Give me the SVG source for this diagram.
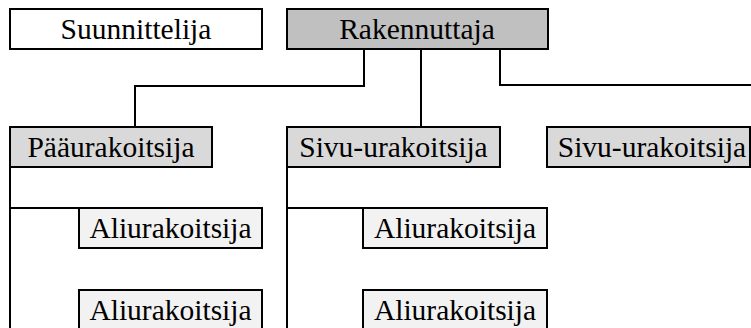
<svg xmlns="http://www.w3.org/2000/svg" width="751" height="328" viewBox="0 0 751 328">
  <style>
    .box { stroke: #000; stroke-width: 2; }
    .plain { fill: #ffffff; }
    .owner { fill: #c0c0c0; }
    .contractor { fill: #d9d9d9; }
    .sub { fill: #f2f2f2; }
    .label { font-family: "Liberation Serif", "Times New Roman", serif; font-size: 29.5px; fill: #000; text-anchor: middle; }
    .link { fill: none; stroke: #000; stroke-width: 2; }
  </style>
  <rect width="751" height="328" fill="#ffffff"/>

  <!-- connectors -->
  <g id="connectors">
    <path class="link" d="M364,49 V86 H135 V127"/>
    <path class="link" d="M421,49 V127"/>
    <path class="link" d="M500,49 V85 H752"/>
    <path class="link" d="M10,167 V330"/>
    <path class="link" d="M10,208 H79"/>
    <path class="link" d="M287,167 V330"/>
    <path class="link" d="M287,208 H363"/>
  </g>

  <g id="suunnittelija">
    <rect class="box plain" x="10" y="9" width="252" height="40"/>
    <text class="label" x="136" y="39">Suunnittelija</text>
  </g>
  <g id="rakennuttaja">
    <rect class="box owner" x="287" y="9" width="261" height="40"/>
    <text class="label" x="417" y="39">Rakennuttaja</text>
  </g>

  <g id="paaurakoitsija">
    <rect class="box contractor" x="10" y="127" width="202" height="40"/>
    <text class="label" x="111" y="157">Pääurakoitsija</text>
  </g>
  <g id="sivu-urakoitsija-1">
    <rect class="box contractor" x="287" y="127" width="213" height="40"/>
    <text class="label" x="393.5" y="157">Sivu-urakoitsija</text>
  </g>
  <g id="sivu-urakoitsija-2">
    <rect class="box contractor" x="547" y="127" width="203" height="40"/>
    <text class="label" x="652" y="157">Sivu-urakoitsija</text>
  </g>

  <g id="aliurakoitsija-1">
    <rect class="box sub" x="79" y="208" width="183" height="40"/>
    <text class="label" x="170.5" y="237.5">Aliurakoitsija</text>
  </g>
  <g id="aliurakoitsija-2">
    <rect class="box sub" x="79" y="290" width="183" height="42"/>
    <text class="label" x="170.5" y="319.5">Aliurakoitsija</text>
  </g>
  <g id="aliurakoitsija-3">
    <rect class="box sub" x="363" y="208" width="184" height="40"/>
    <text class="label" x="455" y="237.5">Aliurakoitsija</text>
  </g>
  <g id="aliurakoitsija-4">
    <rect class="box sub" x="363" y="290" width="184" height="42"/>
    <text class="label" x="455" y="319.5">Aliurakoitsija</text>
  </g>
</svg>
